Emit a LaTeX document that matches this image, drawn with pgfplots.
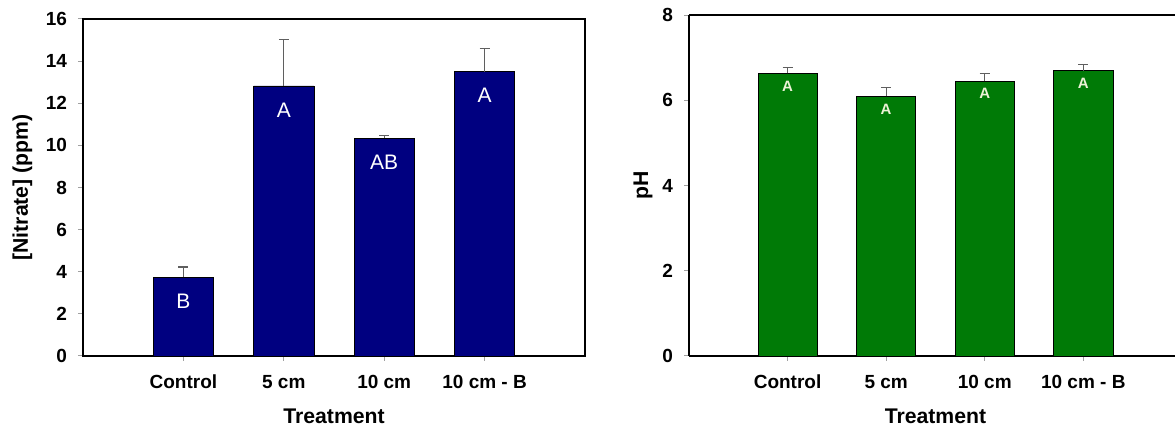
\documentclass[border=0pt]{standalone}
\usepackage{pgfplots}
\pgfplotsset{compat=1.18}
\usepackage{pgfplotstable}
\usepackage{fontspec}
\setmainfont{Liberation Sans}
\definecolor{navybar}{RGB}{0,0,128}
\definecolor{greenbar}{RGB}{0,122,6}
\definecolor{paleA}{RGB}{236,242,214}
\definecolor{ebar}{RGB}{95,95,95}
\definecolor{tickgray}{RGB}{160,160,160}

\pgfplotstableread{
x val err lab
0 3.75 0.48 B
1 12.82 2.20 A
2 10.34 0.12 AB
3 13.50 1.11 A
}\nitrate
\pgfplotstableread{
x val err lab
0 6.63 0.13 A
1 6.09 0.21 A
2 6.45 0.18 A
3 6.69 0.15 A
}\phdata

\newcommand{\labfont}{\fontsize{10.6}{12}\selectfont\bfseries}

\pgfplotsset{
  common/.style={
    scale only axis,
    xmin=-1,
    ymin=0,
    xtick={0,1,2,3},
    xticklabels={Control,5 cm,10 cm,10 cm - B},
    tick pos=left,
    tick align=outside,
    major tick length=2.5pt,
    every tick/.style={tickgray, line width=0.5pt},
    minor tick num=0,
    axis line style={line width=1.4pt, black},
    ticklabel style={font=\fontsize{9.5}{11}\selectfont\bfseries},
    /pgf/number format/assume math mode=true,
    xticklabel style={yshift=-3.5pt},
    yticklabel style={xshift=-2pt},
    ybar,
    bar width=0.6,
    clip=false,
  },
}

\begin{document}
\begin{tikzpicture}
\path[use as bounding box] (0,0) rectangle (587.5pt,214pt);

\begin{axis}[common,
  at={(41.5pt,36pt)}, anchor=south west,
  width=251pt, height=168.5pt,
  xmax=4, ymax=16,
  ytick={0,2,4,6,8,10,12,14,16},
  xlabel={Treatment},
  ylabel={[Nitrate] (ppm)},
  every axis x label/.style={at={(axis description cs:0.5,-0.178)}, anchor=center, font=\labfont},
  every axis y label/.style={at={(axis description cs:-0.1205,0.5)}, rotate=90, anchor=center, font=\labfont},
  point meta=explicit symbolic,
  nodes near coords,
  every node near coord/.style={anchor=center, yshift=-12pt, text=white, font=\fontsize{10.5}{12}\selectfont},
]
\addplot+[fill=navybar, draw=black, line width=0.4pt,
  error bars/.cd, y dir=plus, y explicit,
  error bar style={ebar, line width=0.6pt},
  error mark options={rotate=90, mark size=2.5pt, ebar, line width=0.6pt}]
  table[x=x, y=val, y error=err, meta=lab]{\nitrate};
\end{axis}

\begin{axis}[common,
  at={(344.5pt,36pt)}, anchor=south west,
  width=243pt, height=170.5pt,
  xmax=3.93, ymax=8,
  ytick={0,2,4,6,8},
  axis y line*=left,
  y axis line style={-},
  xlabel={Treatment},
  every axis x label/.style={at={(axis cs:1.5,0)}, yshift=-30pt, anchor=center, font=\labfont},
  ylabel={pH},
  every axis y label/.style={at={(axis description cs:-0.0947,0.5)}, rotate=90, anchor=center, font=\labfont},
  point meta=explicit symbolic,
  nodes near coords,
  every node near coord/.style={anchor=center, yshift=-6.3pt, text=paleA, font=\fontsize{7.5}{9}\selectfont\bfseries},
]
\addplot+[fill=greenbar, draw=black, line width=0.4pt,
  error bars/.cd, y dir=plus, y explicit,
  error bar style={ebar, line width=0.6pt},
  error mark options={rotate=90, mark size=2.5pt, ebar, line width=0.6pt}]
  table[x=x, y=val, y error=err, meta=lab]{\phdata};
\end{axis}
\end{tikzpicture}
\end{document}
